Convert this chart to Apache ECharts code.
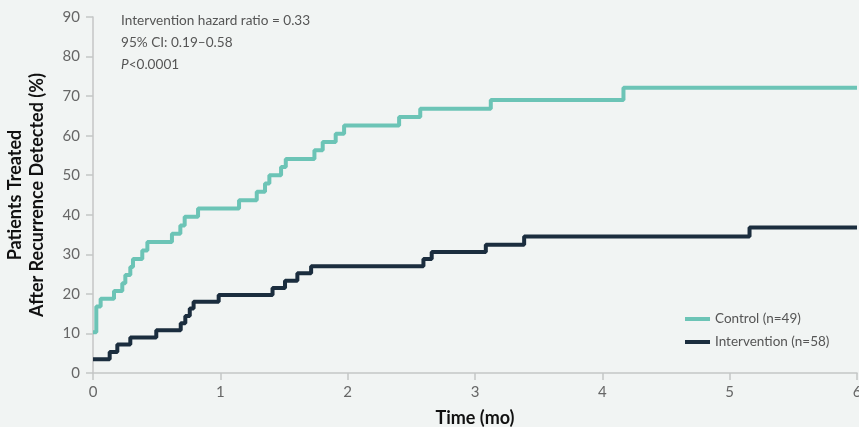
<!DOCTYPE html>
<html>
<head>
<meta charset="utf-8">
<script src="https://cdn.jsdelivr.net/npm/echarts@6/dist/echarts.min.js"></script>
<style>
html,body{margin:0;padding:0;background:#f1f4f3;}
#chart{width:859px;height:427px;}
</style>
</head>
<body>
<div id="chart"></div>
<script>
// Data (time in months, % treated)
var controlTimes = [0, 0.026, 0.06, 0.165, 0.23, 0.254, 0.293, 0.314, 0.387, 0.427, 0.62, 0.686, 0.72, 0.825, 1.147, 1.286, 1.351, 1.385, 1.477, 1.514, 1.739, 1.804, 1.906, 1.972, 2.404, 2.57, 3.124, 4.166, 6];
var controlValues = [10.3, 16.8, 18.8, 20.7, 22.7, 24.8, 26.8, 28.8, 31.0, 33.1, 35.2, 37.3, 39.5, 41.6, 43.7, 45.8, 47.9, 50.0, 52.1, 54.1, 56.3, 58.4, 60.5, 62.6, 64.7, 66.8, 69.0, 72.1, 72.1];
var interventionTimes = [0, 0.131, 0.191, 0.293, 0.497, 0.689, 0.725, 0.76, 0.79, 0.987, 1.41, 1.508, 1.605, 1.713, 2.595, 2.66, 3.085, 3.386, 5.156, 6];
var interventionValues = [3.5, 5.3, 7.2, 9.0, 10.8, 12.6, 14.4, 16.3, 18.0, 19.7, 21.5, 23.3, 25.2, 27.0, 28.8, 30.6, 32.4, 34.5, 36.8, 36.8];
var seriesNames = ['Control (n=49)', 'Intervention (n=58)'];
var annotationLines = ['Intervention hazard ratio = 0.33', '95% CI: 0.19\u20130.58'];

function pairs(t, v) { return t.map(function (x, i) { return [x, v[i]]; }); }

var FONT = 'Lato';
var chart = echarts.init(document.getElementById('chart'));
chart.setOption({
  backgroundColor: '#f1f4f3',
  animation: false,
  textStyle: { fontFamily: FONT },
  grid: { left: 93, right: 2, top: 17, bottom: 54, containLabel: false, outerBoundsMode: 'none' },
  xAxis: {
    type: 'value', min: 0, max: 6, interval: 1,
    name: 'Time (mo)', nameLocation: 'middle', nameGap: 36,
    nameTextStyle: { fontFamily: FONT, fontWeight: 'bold', fontSize: 18, color: '#111' },
    axisLine: { show: true, lineStyle: { color: '#c4c6c6', width: 1.5 } },
    axisTick: { show: true, length: 7, lineStyle: { color: '#c4c6c6', width: 1.5 } },
    axisLabel: { fontSize: 15, color: '#666', margin: 12 },
    splitLine: { show: false }
  },
  yAxis: {
    type: 'value', min: 0, max: 90, interval: 10,
    name: 'Patients Treated\nAfter Recurrence Detected (%)', nameLocation: 'middle', nameGap: 45, nameRotate: 90,
    nameTextStyle: { fontFamily: FONT, fontWeight: 'bold', fontSize: 18, color: '#111', lineHeight: 22 },
    axisLine: { show: true, lineStyle: { color: '#c4c6c6', width: 1.5 } },
    axisTick: { show: true, length: 7, lineStyle: { color: '#c4c6c6', width: 1.5 } },
    axisLabel: { fontSize: 15, color: '#666', margin: 13 },
    splitLine: { show: false }
  },
  legend: {
    orient: 'vertical', left: 685, top: 312, itemGap: 9, padding: 0,
    itemWidth: 25, itemHeight: 4,
    icon: 'rect',
    textStyle: { fontSize: 13.5, color: '#555', lineHeight: 14, padding: [0, 0, 0, 0] },
    data: seriesNames
  },
  graphic: [
    { type: 'text', left: 121, top: 14, style: { text: annotationLines[0], fontFamily: FONT, fontSize: 13.6, fill: '#555' } },
    { type: 'text', left: 121, top: 36, style: { text: annotationLines[1], fontFamily: FONT, fontSize: 13.6, fill: '#555' } },
    { type: 'text', left: 121, top: 58, style: { text: '{i|P}<0.0001', fontFamily: FONT, fontSize: 13.6, fill: '#555', rich: { i: { fontStyle: 'italic', fontFamily: FONT, fontSize: 13.6, fill: '#555' } } } }
  ],
  series: [
    {
      name: seriesNames[0], type: 'line', step: 'end', symbol: 'none',
      data: pairs(controlTimes, controlValues),
      lineStyle: { color: '#6cc4b6', width: 4 }, itemStyle: { color: '#6cc4b6' }
    },
    {
      name: seriesNames[1], type: 'line', step: 'end', symbol: 'none',
      data: pairs(interventionTimes, interventionValues),
      lineStyle: { color: '#1b2d3e', width: 4 }, itemStyle: { color: '#1b2d3e' }
    }
  ]
});
</script>
</body>
</html>
